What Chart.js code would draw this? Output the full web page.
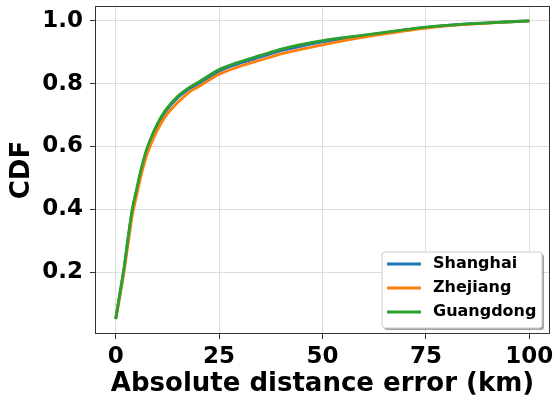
<!DOCTYPE html>
<html>
<head>
<meta charset="utf-8">
<script src="https://cdn.jsdelivr.net/npm/chart.js@4/dist/chart.umd.min.js"></script>
<style>
  html, body { margin: 0; padding: 0; background: #fff; }
  #wrap { width: 557px; height: 402px; }
</style>
</head>
<body>
<div id="wrap"><canvas id="cdf" width="557" height="402"></canvas></div>
<script>
// distance error (km) sample points
const errKm = [0, 1, 2, 3, 4, 5, 6, 7, 8, 10, 12, 15, 18, 20, 25, 30, 35, 40, 45, 50, 60, 70, 75, 80, 90, 100];

// CDF values per province
const shanghai  = [0.05, 0.13, 0.21, 0.305, 0.395, 0.455, 0.515, 0.565, 0.605, 0.665, 0.71, 0.755, 0.785, 0.80, 0.84, 0.865, 0.885, 0.905, 0.92, 0.933, 0.953, 0.971, 0.979, 0.986, 0.994, 1.0];
const zhejiang  = [0.05, 0.12, 0.20, 0.29, 0.38, 0.44, 0.50, 0.55, 0.59, 0.65, 0.695, 0.74, 0.775, 0.79, 0.83, 0.855, 0.875, 0.895, 0.91, 0.924, 0.948, 0.968, 0.977, 0.984, 0.993, 1.0];
const guangdong = [0.05, 0.13, 0.21, 0.31, 0.40, 0.46, 0.52, 0.57, 0.61, 0.67, 0.715, 0.76, 0.79, 0.805, 0.845, 0.87, 0.89, 0.91, 0.925, 0.937, 0.955, 0.972, 0.98, 0.986, 0.994, 1.0];

const xTicks = [0, 25, 50, 75, 100];
const yTicks = [0.2, 0.4, 0.6, 0.8, 1.0];

const FONT = "'DejaVu Sans', sans-serif";

function pts(ys) {
  return errKm.map((x, i) => ({ x: x, y: ys[i] }));
}

// frame + legend box drawn like matplotlib
const mplExtras = {
  id: 'mplExtras',
  afterDatasetsDraw(chart) {
    const { ctx, chartArea: a } = chart;
    ctx.save();
    ctx.strokeStyle = '#333';
    ctx.lineWidth = 1;
    ctx.strokeRect(a.left + 0.5, a.top + 0.5, a.right - a.left - 1, a.bottom - a.top - 1);

    // legend
    const bx = 382, by = 252, bw = 160, bh = 76;
    ctx.shadowColor = 'rgba(0,0,0,0.35)';
    ctx.shadowOffsetX = 2;
    ctx.shadowOffsetY = 2;
    ctx.fillStyle = '#fff';
    ctx.beginPath();
    ctx.roundRect(bx, by, bw, bh, 3);
    ctx.fill();
    ctx.shadowColor = 'transparent';
    ctx.strokeStyle = '#cccccc';
    ctx.stroke();

    ctx.font = 'bold 16px ' + FONT;
    ctx.textBaseline = 'middle';
    chart.data.datasets.forEach((ds, i) => {
      const yy = by + 12 + i * 24;
      ctx.strokeStyle = ds.borderColor;
      ctx.lineWidth = 2.8;
      ctx.beginPath();
      ctx.moveTo(bx + 5, yy);
      ctx.lineTo(bx + 39, yy);
      ctx.stroke();
      ctx.fillStyle = '#000';
      ctx.fillText(ds.label, bx + 51, yy);
    });
    ctx.restore();
  }
};

new Chart(document.getElementById('cdf'), {
  type: 'line',
  data: {
    datasets: [
      { label: 'Shanghai', data: pts(shanghai), borderColor: '#1f77b4', order: 3 },
      { label: 'Zhejiang', data: pts(zhejiang), borderColor: '#ff7f0e', order: 2 },
      { label: 'Guangdong', data: pts(guangdong), borderColor: '#2ca02c', order: 1 }
    ]
  },
  options: {
    responsive: false,
    animation: false,
    layout: { padding: { top: 6, right: 7, left: 0, bottom: 0 } },
    elements: {
      line: { borderWidth: 2.8, tension: 0.4, cubicInterpolationMode: 'monotone', fill: false },
      point: { radius: 0 }
    },
    plugins: {
      legend: { display: false },
      tooltip: { enabled: false }
    },
    scales: {
      x: {
        type: 'linear',
        min: -5,
        max: 105,
        afterBuildTicks: s => { s.ticks = xTicks.map(v => ({ value: v })); },
        afterFit: s => { s.height = 68; s.paddingLeft = 0; s.paddingRight = 0; },
        grid: { color: '#dddddd', tickColor: '#333', tickLength: 5, drawTicks: true },
        border: { display: false },
        ticks: { color: '#000', padding: 4, font: { family: FONT, size: 23, weight: 'bold' } },
        title: {
          display: true,
          text: 'Absolute distance error (km)',
          color: '#000',
          padding: { top: 0, bottom: 2 },
          font: { family: FONT, size: 26, weight: 'bold' }
        }
      },
      y: {
        min: 0.0025,
        max: 1.0475,
        afterBuildTicks: s => { s.ticks = yTicks.map(v => ({ value: v })); },
        afterFit: s => { s.width = 95; s.paddingTop = 0; s.paddingBottom = 0; },
        grid: { color: '#dddddd', tickColor: '#333', tickLength: 5, drawTicks: true },
        border: { display: false },
        ticks: {
          color: '#000',
          padding: 7,
          font: { family: FONT, size: 23, weight: 'bold' },
          callback: v => v.toFixed(1)
        },
        title: {
          display: true,
          text: 'CDF',
          color: '#000',
          padding: { top: 7, bottom: 4 },
          font: { family: FONT, size: 26, weight: 'bold' }
        }
      }
    }
  },
  plugins: [mplExtras]
});
</script>
</body>
</html>
